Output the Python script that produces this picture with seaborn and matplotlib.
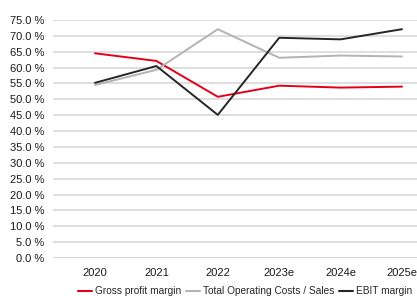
import pandas as pd
import numpy as np
import seaborn as sns
import matplotlib.pyplot as plt

years = ["2020", "2021", "2022", "2023e", "2024e", "2025e"]
gross_margin = [64.5, 62.1, 50.8, 54.3, 53.7, 54.0]
opex_sales = [54.5, 59.3, 72.1, 63.1, 63.8, 63.5]
ebit_margin = [55.2, 60.5, 45.1, 69.4, 68.9, 72.1]

series_names = ["Gross profit margin", "Total Operating Costs / Sales", "EBIT margin"]
colors = ["#e3001b", "#b3b3b3", "#262626"]

df = pd.DataFrame(
    {
        "year": years * 3,
        "value": gross_margin + opex_sales + ebit_margin,
        "series": np.repeat(series_names, len(years)),
    }
)

sns.set_style("white")
plt.rcParams["font.family"] = ["Liberation Sans", "DejaVu Sans"]

fig = plt.figure(figsize=(4.17, 2.96), dpi=100)
ax = fig.add_axes([53 / 417, 38 / 296, 1 - 53 / 417, 238 / 296])

sns.lineplot(
    data=df,
    x="year",
    y="value",
    hue="series",
    hue_order=series_names,
    palette=colors,
    linewidth=1.4,
    ax=ax,
    legend=False,
)

ax.set_xlim(-0.684, 5.244)
ax.set_ylim(0, 75)
ax.set_yticks(np.arange(0, 76, 5))
ax.set_yticklabels([f"{v:.1f} %" for v in np.arange(0, 76, 5)])
ax.yaxis.grid(True, color="#d9d9d9", linewidth=1.2)
ax.set_axisbelow(True)
ax.axhline(0, color="#c0c0c0", linewidth=1.3, zorder=0)
for s in ax.spines.values():
    s.set_visible(False)
ax.tick_params(axis="both", length=0, labelsize=8, colors="#1a1a1a", pad=6)
ax.tick_params(axis="x", pad=7)
ax.set_xlabel("")
ax.set_ylabel("")

handles = [plt.Line2D([], [], color=c, linewidth=1.5) for c in colors]
fig.legend(
    handles,
    series_names,
    loc="lower left",
    bbox_to_anchor=(70 / 417, -0.028),
    ncol=3,
    frameon=False,
    fontsize=7.3,
    handlelength=1.35,
    handletextpad=0.3,
    columnspacing=0.5,
    borderpad=0.3,
)

fig.savefig("out.png", dpi=100)
